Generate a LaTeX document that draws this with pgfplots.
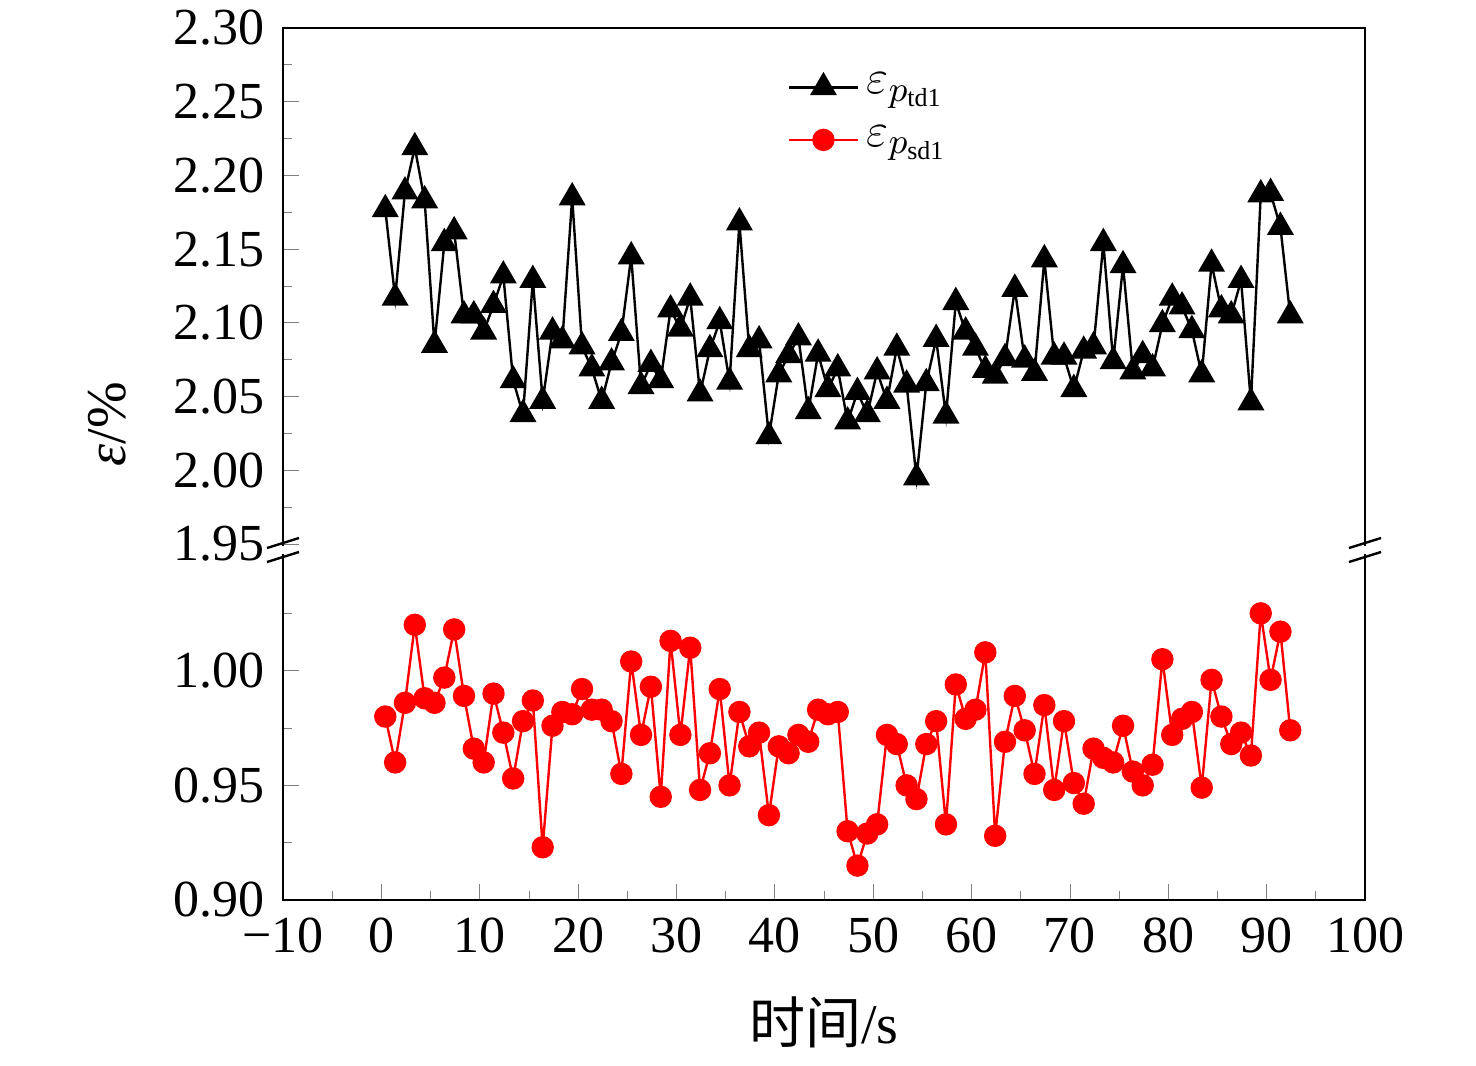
\documentclass[border=0pt]{standalone}
\usepackage{fontspec}
\setmainfont{Liberation Serif}
\newfontfamily\cjk{Noto Sans CJK SC}
\usepackage{pgfplots}
\pgfplotsset{compat=1.18}
\pgfplotstableread{
x y
0.4 2.177
1.4 2.117
2.4 2.189
3.4 2.219
4.4 2.183
5.4 2.085
6.4 2.154
7.4 2.162
8.4 2.105
9.4 2.105
10.4 2.094
11.4 2.112
12.4 2.132
13.4 2.061
14.4 2.038
15.4 2.129
16.4 2.047
17.4 2.094
18.4 2.088
19.4 2.185
20.4 2.084
21.4 2.069
22.4 2.047
23.4 2.073
24.4 2.093
25.4 2.145
26.4 2.057
27.4 2.072
28.4 2.061
29.4 2.109
30.4 2.096
31.4 2.117
32.4 2.052
33.4 2.082
34.4 2.101
35.4 2.060
36.4 2.168
37.4 2.082
38.4 2.088
39.4 2.023
40.4 2.065
41.4 2.078
42.4 2.090
43.4 2.040
44.4 2.079
45.4 2.055
46.4 2.069
47.4 2.033
48.4 2.053
49.4 2.038
50.4 2.067
51.4 2.047
52.4 2.083
53.4 2.058
54.4 1.995
55.4 2.059
56.4 2.089
57.4 2.037
58.4 2.114
59.4 2.094
60.4 2.083
61.4 2.068
62.4 2.064
63.4 2.076
64.4 2.123
65.4 2.075
66.4 2.066
67.4 2.143
68.4 2.077
69.4 2.077
70.4 2.055
71.4 2.081
72.4 2.084
73.4 2.154
74.4 2.074
75.4 2.139
76.4 2.067
77.4 2.078
78.4 2.069
79.4 2.099
80.4 2.117
81.4 2.111
82.4 2.095
83.4 2.065
84.4 2.140
85.4 2.109
86.4 2.105
87.4 2.129
88.4 2.046
89.4 2.187
90.4 2.188
91.4 2.165
92.4 2.105
}\tdata
\pgfplotstableread{
x y
0.4 0.980
1.4 0.960
2.4 0.986
3.4 1.020
4.4 0.988
5.4 0.986
6.4 0.997
7.4 1.018
8.4 0.989
9.4 0.966
10.4 0.960
11.4 0.990
12.4 0.973
13.4 0.953
14.4 0.978
15.4 0.987
16.4 0.923
17.4 0.976
18.4 0.982
19.4 0.981
20.4 0.992
21.4 0.983
22.4 0.983
23.4 0.978
24.4 0.955
25.4 1.004
26.4 0.972
27.4 0.993
28.4 0.945
29.4 1.013
30.4 0.972
31.4 1.010
32.4 0.948
33.4 0.964
34.4 0.992
35.4 0.950
36.4 0.982
37.4 0.967
38.4 0.973
39.4 0.937
40.4 0.967
41.4 0.964
42.4 0.972
43.4 0.969
44.4 0.983
45.4 0.981
46.4 0.982
47.4 0.930
48.4 0.915
49.4 0.929
50.4 0.933
51.4 0.972
52.4 0.968
53.4 0.950
54.4 0.944
55.4 0.968
56.4 0.978
57.4 0.933
58.4 0.994
59.4 0.979
60.4 0.983
61.4 1.008
62.4 0.928
63.4 0.969
64.4 0.989
65.4 0.974
66.4 0.955
67.4 0.985
68.4 0.948
69.4 0.978
70.4 0.951
71.4 0.942
72.4 0.966
73.4 0.962
74.4 0.960
75.4 0.976
76.4 0.956
77.4 0.950
78.4 0.959
79.4 1.005
80.4 0.972
81.4 0.979
82.4 0.982
83.4 0.949
84.4 0.996
85.4 0.980
86.4 0.968
87.4 0.973
88.4 0.963
89.4 1.025
90.4 0.996
91.4 1.017
92.4 0.974
}\sdata
\begin{document}
\fontsize{13}{15}\selectfont
\begin{tikzpicture}
\useasboundingbox (-70.75pt,-41.25pt) rectangle (298.25pt,225pt);
\pgfplotsset{every axis/.append style={
  scale only axis, width=270.5pt, xmin=-10, xmax=100,
  axis line style={draw=none}, tick align=inside, ytick pos=left, xtick pos=bottom,
  major tick length=4pt, minor tick length=2.2pt,
  /pgf/number format/assume math mode=true,
  tick label style={font=\fontsize{13}{15}\selectfont},
  yticklabel style={/pgf/number format/fixed,/pgf/number format/fixed zerofill,/pgf/number format/precision=2},
}}
\begin{axis}[name=lo, at={(0,0)}, anchor=south west, height=86pt,
  ymin=0.90, ymax=1.05, ytick={0.90,0.95,1.00}, minor ytick={0.925,0.975,1.025},
  xtick={-10,0,...,100}, xticklabels={−10,0,10,20,30,40,50,60,70,80,90,100},
  minor xtick={-5,5,...,95},
  xlabel={{\cjk 时间}/s}, xlabel style={font=\fontsize{14}{16}\selectfont, yshift=-2pt}]
\addplot[red, mark=*, mark size=2.5pt, line width=0.6pt] table {\sdata};
\end{axis}
\begin{axis}[name=up, at={(0,89pt)}, anchor=south west, height=129pt,
  ymin=1.95, ymax=2.30, ytick={1.95,2.00,...,2.30}, minor ytick={1.975,2.025,...,2.275},
  xtick=\empty,
  legend style={draw=none, fill=none, at={(0.455,0.945)}, anchor=north west, font=\fontsize{13}{15}\selectfont, row sep=2pt},
  legend cell align=left]
\addplot[black, mark=triangle*, mark size=3.3pt, line width=0.6pt] table {\tdata};
\addlegendentry{$\varepsilon_{p_{\mathrm{td1}}}$}
\addlegendimage{red, mark=*, mark size=2.5pt, line width=0.6pt}
\addlegendentry{$\varepsilon_{p_{\mathrm{sd1}}}$}
\end{axis}
\draw[line width=0.6pt] (lo.south west) -- (lo.south east) -- (up.north east) -- (up.north west) -- cycle;
\foreach \xx in {0pt,270.5pt}{
 \fill[white] (\xx-4pt,86.6pt) rectangle (\xx+4pt,88.4pt);
 \draw[line width=0.6pt] (\xx-4pt,84.5pt) -- (\xx+4pt,87pt);
 \draw[line width=0.6pt] (\xx-4pt,88pt) -- (\xx+4pt,90.5pt);
}
\node[rotate=90, font=\fontsize{14}{16}\selectfont] at (-44pt,119pt) {\textit{ε}/\%};
\end{tikzpicture}
\end{document}
